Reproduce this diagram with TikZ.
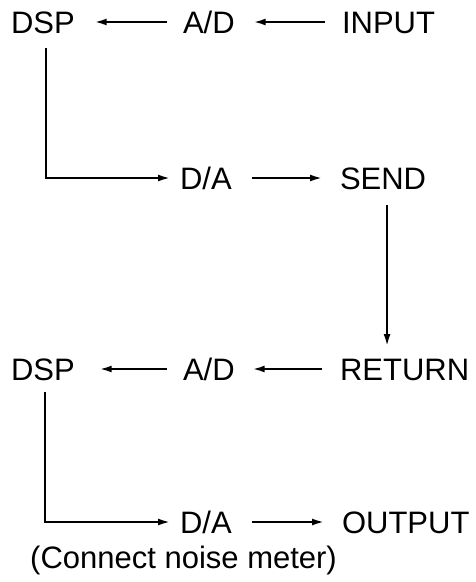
\documentclass[tikz,border=0pt]{standalone}
\usepackage{fontspec}
\setmainfont{Liberation Sans}
\usetikzlibrary{arrows.meta}
\begin{document}
\begin{tikzpicture}[x=1pt,y=-1pt,
  lbl/.style={inner sep=0pt,outer sep=0pt,anchor=west,text height=22pt,text depth=0pt,font=\fontsize{31}{31}\selectfont},
  arr/.style={line width=2pt,-{Latex[length=12pt,width=7pt]}}]
\useasboundingbox (0,0) rectangle (476,582);
% row 1
\node[lbl] (dsp1) at (11,22) {DSP};
\node[lbl] (ad1) at (183,22) {A/D};
\node[lbl] (in) at (342,22) {INPUT};
% row 2
\node[lbl] (da1) at (180,178) {D/A};
\node[lbl] (send) at (340,178) {SEND};
% row 3
\node[lbl] (dsp2) at (11,369) {DSP};
\node[lbl] (ad2) at (183,369) {A/D};
\node[lbl] (ret) at (340,369) {RETURN};
% row 4
\node[lbl] (da2) at (180,522) {D/A};
\node[lbl] (out) at (342,522) {OUTPUT};
% caption
\node[inner sep=0pt,anchor=base west,font=\fontsize{31}{31}\selectfont] (cap) at (30,568) {(Connect noise meter)};
% connectors
\draw[arr,shorten <=17pt,shorten >=19pt] (in.west) -- (ad1.east);
\draw[arr,shorten <=16pt,shorten >=20pt] (ad1.west) -- (dsp1.east);
\draw[arr,shorten >=10pt] ([xshift=3pt,yshift=-15pt]dsp1.south) |- (da1.west);
\draw[arr,shorten <=20pt,shorten >=18pt] (da1.east) -- (send.west);
\draw[arr,shorten <=16pt,shorten >=12pt] ([xshift=4pt]send.south) -- ([xshift=4pt]send.south |- ret.north);
\draw[arr,shorten <=18pt,shorten >=18pt] (ret.west) -- (ad2.east);
\draw[arr,shorten <=16pt,shorten >=25pt] (ad2.west) -- (dsp2.east);
\draw[arr,shorten >=10pt] ([xshift=2pt,yshift=-12pt]dsp2.south) |- (da2.west);
\draw[arr,shorten <=20pt,shorten >=18pt] (da2.east) -- (out.west);
\end{tikzpicture}
\end{document}
